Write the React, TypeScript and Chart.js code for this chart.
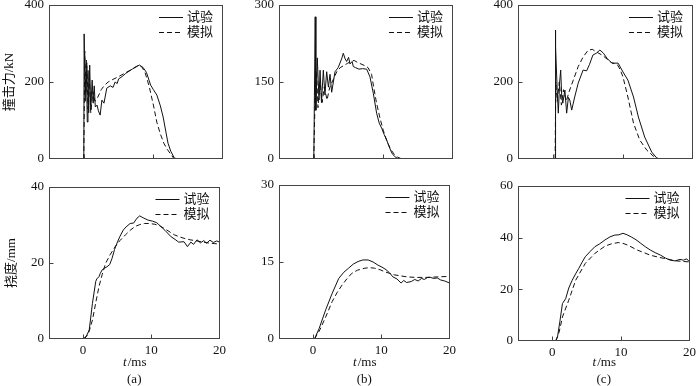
import React, { useEffect, useRef } from 'react';
import { Chart, registerables } from 'chart.js';

Chart.register(...registerables);

const SERIF = '"Liberation Serif", "Times New Roman", "Noto Sans CJK SC", serif';
const INK = '#111';
const FRAME = '#444';

const LEGEND_LABELS = ['试验', '模拟'];
const X_TICKS = [0, 10, 20];
const X_TITLE_ITALIC = 't';
const X_TITLE_REST = '/ms';
const SUB_LABELS = ['(a)', '(b)', '(c)'];
const Y_TITLES = ['撞击力/kN', '挠度/mm'];

// ---- Force (a)
const aForceTestT = [0, 0.05, 0.2, 0.35, 0.5, 0.6, 0.7, 0.85, 1.0, 1.2, 1.35, 1.5, 1.65, 1.9, 2.1, 2.35, 2.6, 2.9, 3.3, 3.8, 4.2, 4.5, 4.8, 5.0, 5.5, 6.0, 6.5, 7.0, 7.5, 8.0, 8.5, 9.0, 9.6, 10.0, 10.5, 11.0, 11.4, 11.8, 12.1, 12.5, 13.0, 13.1];
const aForceTestV = [0, 325, 150, 257, 96, 230, 120, 244, 127, 205, 145, 190, 135, 140, 125, 114, 153, 145, 184, 190, 186, 200, 196, 208, 214, 222, 228, 234, 240, 244, 238, 225, 192, 180, 166, 138, 109, 70, 41, 20, 3, 0];
const aForceSimT = [0, 0.15, 0.3, 0.45, 0.6, 0.8, 1.0, 1.3, 1.6, 2.0, 2.5, 3.0, 3.5, 4.0, 5.0, 6.0, 7.0, 7.8, 8.3, 8.8, 9.4, 10.0, 10.5, 11.0, 11.5, 12.0, 12.5, 13.0];
const aForceSimV = [0, 280, 170, 250, 130, 210, 120, 175, 150, 160, 180, 192, 200, 205, 214, 224, 234, 242, 240, 225, 188, 140, 95, 65, 41, 25, 12, 0];

// ---- Force (b)
const bForceTestT = [0, 0.2, 0.3, 0.5, 0.75, 0.9, 1.1, 1.37, 1.6, 1.85, 2.1, 2.33, 2.57, 3.05, 3.5, 3.76, 4.0, 4.24, 4.5, 4.72, 5.0, 5.2, 5.5, 5.68, 6.0, 6.5, 7.0, 7.6, 8.07, 8.55, 9.03, 9.4, 9.75, 10.1, 10.47, 10.8, 11.19, 11.6, 12.14];
const bForceTestV = [0, 277, 95, 197, 115, 173, 110, 173, 125, 170, 140, 165, 130, 170, 178, 187, 195, 206, 195, 190, 198, 185, 190, 180, 178, 175, 176, 175, 160, 128, 89, 70, 60, 48, 37, 25, 12, 5, 0];
const bForceSimT = [0, 0.2, 0.4, 0.6, 0.9, 1.2, 1.5, 1.9, 2.3, 2.8, 3.3, 3.8, 4.3, 4.8, 5.3, 5.8, 6.3, 6.8, 7.3, 7.8, 8.3, 8.6, 9.0, 9.5, 10.0, 10.5, 11.0, 11.5, 12.0, 12.5, 13.1];
const bForceSimV = [0, 130, 170, 100, 150, 110, 140, 115, 140, 155, 170, 178, 182, 186, 190, 192, 188, 185, 182, 178, 165, 140, 110, 80, 55, 35, 20, 10, 4, 1, 0];

// ---- Force (c)
const cForceTestT = [0.3, 0.33, 0.4, 0.6, 0.76, 0.95, 1.1, 1.25, 1.4, 1.7, 1.95, 2.2, 2.4, 2.67, 3.1, 3.6, 4.3, 4.8, 5.2, 5.7, 6.2, 6.7, 7.2, 7.7, 8.4, 9.3, 10.0, 10.7, 11.5, 12.2, 13.1, 14.1, 14.8, 15.3];
const cForceTestV = [0, 335, 291, 180, 119, 200, 231, 160, 145, 179, 119, 160, 153, 127, 161, 197, 231, 229, 245, 270, 275, 283, 275, 262, 249, 249, 226, 205, 161, 109, 57, 18, 3, 0];
const cForceSimT = [0.3, 0.4, 0.6, 0.9, 1.2, 1.5, 1.9, 2.3, 2.9, 3.6, 4.3, 5.0, 5.6, 6.2, 7.0, 7.7, 8.4, 9.2, 9.6, 10.0, 10.7, 11.5, 12.4, 13.4, 14.3, 15.0];
const cForceSimV = [0, 200, 150, 200, 140, 180, 150, 175, 205, 240, 265, 282, 285, 278, 270, 260, 250, 245, 232, 213, 161, 93, 49, 23, 8, 0];

// ---- Deflection (a)
const aDeflTestT = [0, 0.5, 0.9, 1.37, 1.85, 2.0, 2.33, 2.5, 2.8, 3.1, 3.5, 3.9, 4.24, 4.6, 4.96, 5.4, 5.9, 6.3, 6.9, 7.4, 7.9, 8.3, 8.8, 9.5, 10.2, 10.8, 11.4, 12.0, 12.9, 13.5, 14.0, 14.8, 15.3, 15.8, 16.2, 16.7, 17.2, 17.7, 18.1, 18.6, 19.1, 19.6, 20];
const aDeflTestV = [0, 0.8, 2.4, 9.4, 15.1, 15.8, 16.4, 17.2, 18.2, 18.6, 19.0, 19.6, 21.2, 23.5, 25.2, 27.0, 28.7, 29.5, 30.4, 30.5, 31.8, 32.4, 31.9, 31.3, 31.0, 30.6, 29.6, 28.6, 26.9, 26.2, 25.5, 25.6, 24.3, 25.5, 24.9, 26.1, 25.3, 25.9, 25.2, 26.0, 25.4, 25.8, 25.5];
const aDeflSimT = [0.2, 0.8, 1.37, 1.85, 2.33, 2.8, 3.3, 4.0, 4.7, 5.4, 6.2, 6.9, 7.6, 8.3, 9.0, 9.7, 10.5, 11.2, 11.9, 12.6, 13.4, 14.1, 14.8, 15.7, 16.7, 17.6, 18.6, 19.3, 20];
const aDeflSimV = [0, 1.5, 5.0, 9.5, 13.8, 17.0, 19.9, 22.3, 24.3, 25.9, 27.4, 28.6, 29.6, 30.1, 30.4, 30.4, 30.2, 29.8, 29.1, 28.3, 27.4, 26.9, 26.5, 26.1, 25.8, 25.5, 25.2, 25.1, 25.0];

// ---- Deflection (b)
const bDeflTestT = [0.2, 0.9, 1.85, 2.8, 3.76, 4.5, 5.2, 5.9, 6.6, 7.3, 8.07, 8.8, 9.5, 10.1, 10.7, 11.2, 11.7, 12.3, 12.9, 13.3, 13.7, 14.4, 14.9, 15.4, 15.9, 16.3, 16.8, 17.2, 17.7, 18.2, 18.7, 19.3, 20];
const bDeflTestV = [0, 2.1, 5.7, 8.9, 11.8, 13.0, 13.8, 14.6, 15.1, 15.4, 15.4, 15.0, 14.4, 14.0, 13.5, 12.9, 12.1, 11.7, 10.9, 11.4, 11.0, 11.2, 11.6, 11.3, 11.8, 11.6, 12.0, 12.0, 11.8, 11.9, 11.5, 11.3, 10.9];
const bDeflSimT = [0.2, 1.0, 1.85, 2.8, 3.5, 4.24, 5.0, 5.68, 6.5, 7.6, 8.3, 9.0, 9.8, 10.5, 11.2, 11.9, 12.8, 13.8, 15.0, 16.7, 18.3, 20];
const bDeflSimV = [0, 1.8, 4.3, 7.3, 9.0, 10.5, 11.8, 12.8, 13.4, 13.8, 13.9, 13.8, 13.5, 13.1, 12.8, 12.5, 12.3, 12.1, 12.0, 12.0, 12.1, 12.2];

// ---- Deflection (c)
const cDeflTestT = [0.3, 0.5, 0.76, 1.1, 1.48, 1.95, 2.4, 2.9, 3.4, 3.86, 4.3, 4.8, 5.5, 6.2, 6.9, 7.67, 8.4, 9.1, 9.7, 10.3, 10.9, 11.5, 12.2, 12.9, 13.6, 14.3, 15.0, 15.8, 16.5, 17.2, 17.9, 18.6, 19.1, 19.6, 20];
const cDeflTestV = [0, 0, 1.6, 7.5, 14.5, 16.4, 20.5, 23.5, 26.0, 28.1, 30.3, 32.6, 34.6, 36.5, 37.6, 39.1, 40.3, 41.0, 41.1, 41.7, 41.1, 40.3, 39.2, 37.8, 36.4, 35.2, 34.2, 33.2, 32.1, 31.3, 31.0, 31.6, 31.3, 31.8, 30.6];
const cDeflSimT = [0.5, 1.0, 1.48, 2.4, 3.4, 4.8, 6.2, 7.67, 8.6, 9.6, 10.3, 11.0, 12.4, 14.3, 16.2, 18.1, 20];
const cDeflSimV = [0, 3.5, 9.3, 15.8, 23.5, 30.0, 33.9, 36.7, 37.6, 38.1, 37.8, 37.1, 35.2, 33.2, 32.0, 31.0, 30.6];

// Y axis ranges
const Y_MAX = { aF: 400, bF: 300, cF: 400, aD: 40, bD: 30, cD: 60 };
const Y_STEP = { aF: 200, bF: 150, cF: 200, aD: 20, bD: 15, cD: 20 };

type PanelCfg = {
  left: number; top: number; width: number; height: number;
  padTop: number; padRight: number; yWidth: number; xHeight: number;
  yMax: number; yStep: number; yTitle?: string; yTitlePad?: number;
  showX: boolean; sub?: string; titleY?: number; subY?: number;
  testT: number[]; testV: number[]; simT: number[]; simV: number[];
};

const pair = (t: number[], v: number[]) => t.map((x, i) => ({ x, y: v[i] }));

const framePlugin = {
  id: 'frame',
  afterDraw(chart: any, _args: any, opts: any) {
    const { ctx, chartArea } = chart;
    const { left, right, top, bottom } = chartArea;
    const xs = chart.scales.x;
    const ys = chart.scales.y;
    ctx.save();
    // frame
    ctx.strokeStyle = FRAME;
    ctx.lineWidth = 1;
    ctx.setLineDash([]);
    const L = Math.round(left) + 0.5, R = Math.round(right) - 0.5;
    const T = Math.round(top) + 0.5, B = Math.round(bottom) - 0.5;
    ctx.strokeRect(L, T, R - L, B - T);
    // inner ticks
    ctx.beginPath();
    xs.ticks.forEach((tk: any) => {
      const px = Math.round(xs.getPixelForValue(tk.value)) + 0.5;
      if (px > L + 1 && px < R - 1) { ctx.moveTo(px, B); ctx.lineTo(px, B - 4); }
    });
    ys.ticks.forEach((tk: any) => {
      const py = Math.round(ys.getPixelForValue(tk.value)) + 0.5;
      if (py > T + 1 && py < B - 1) { ctx.moveTo(L, py); ctx.lineTo(L + 4, py); }
    });
    ctx.stroke();
    // legend
    ctx.font = `13px ${SERIF}`;
    ctx.textBaseline = 'middle';
    ctx.textAlign = 'left';
    chart.data.datasets.forEach((ds: any, i: number) => {
      const y = Math.round(top + 12 + i * 14.5) + 0.5;
      const w = ctx.measureText(ds.label).width;
      const tx = right - 10 - w;
      ctx.fillStyle = INK;
      ctx.fillText(ds.label, tx, y);
      ctx.strokeStyle = INK;
      ctx.setLineDash(ds.borderDash || []);
      ctx.beginPath();
      ctx.moveTo(tx - 28, y);
      ctx.lineTo(tx - 4, y);
      ctx.stroke();
    });
    ctx.setLineDash([]);
    // x title and sub label
    if (opts && opts.showTitle) {
      const cx = (left + right) / 2;
      ctx.fillStyle = INK;
      ctx.font = `italic 13px ${SERIF}`;
      const w1 = ctx.measureText(X_TITLE_ITALIC).width;
      ctx.font = `13px ${SERIF}`;
      const w2 = ctx.measureText(X_TITLE_REST).width;
      const sx = cx - (w1 + w2) / 2;
      ctx.font = `italic 13px ${SERIF}`;
      ctx.fillText(X_TITLE_ITALIC, sx, opts.titleY);
      ctx.font = `13px ${SERIF}`;
      ctx.fillText(X_TITLE_REST, sx + w1 + 1, opts.titleY);
      ctx.textAlign = 'center';
      ctx.fillText(opts.sub, cx, opts.subY);
    }
    ctx.restore();
  },
};

function Panel(p: PanelCfg) {
  const ref = useRef<HTMLCanvasElement>(null);
  useEffect(() => {
    const chart = new Chart(ref.current as HTMLCanvasElement, {
      type: 'line',
      data: {
        datasets: [
          { label: LEGEND_LABELS[0], data: pair(p.testT, p.testV), borderColor: INK, borderWidth: 1, pointRadius: 0, tension: 0, fill: false },
          { label: LEGEND_LABELS[1], data: pair(p.simT, p.simV), borderColor: INK, borderWidth: 1, borderDash: [5, 3], pointRadius: 0, tension: 0, fill: false },
        ],
      },
      options: {
        responsive: false,
        animation: false,
        devicePixelRatio: 1,
        layout: { padding: { top: p.padTop, right: p.padRight, left: 0, bottom: 0 } },
        plugins: {
          legend: { display: false },
          tooltip: { enabled: false },
          frame: { showTitle: p.showX, sub: p.sub, titleY: p.titleY, subY: p.subY },
        } as any,
        scales: {
          x: {
            type: 'linear', min: -5, max: 20,
            grid: { display: false, drawTicks: false },
            border: { display: false },
            afterBuildTicks: (s: any) => { s.ticks = X_TICKS.map((v) => ({ value: v })); },
            afterFit: (s: any) => { s.height = p.xHeight; },
            ticks: { display: p.showX, padding: 4, color: INK, font: { family: SERIF, size: 13 }, maxRotation: 0 },
          },
          y: {
            type: 'linear', min: 0, max: p.yMax,
            grid: { display: false, drawTicks: false },
            border: { display: false },
            afterFit: (s: any) => { s.width = p.yWidth; },
            ticks: { stepSize: p.yStep, padding: 5, color: INK, font: { family: SERIF, size: 13 } },
            title: {
              display: !!p.yTitle, text: p.yTitle || '', color: INK,
              font: { family: SERIF, size: 13 },
              padding: { top: p.yTitlePad ?? 2, bottom: 0 },
            },
          },
        },
      } as any,
      plugins: [framePlugin],
    });
    return () => chart.destroy();
  }, []);
  return (
    <canvas
      ref={ref}
      width={p.width}
      height={p.height}
      style={{ position: 'absolute', left: p.left, top: p.top, width: p.width, height: p.height }}
    />
  );
}

const TOP = { top: -10, height: 186, padTop: 15, xHeight: 17, showX: false };
const BOT = { top: 170, height: 216, showX: true, titleY: 193, subY: 209.5 };

const panels: PanelCfg[] = [
  { ...TOP, left: 0, width: 230, padRight: 7, yWidth: 49, yMax: Y_MAX.aF, yStep: Y_STEP.aF, yTitle: Y_TITLES[0], yTitlePad: 2,
    testT: aForceTestT, testV: aForceTestV, simT: aForceSimT, simV: aForceSimV },
  { ...TOP, left: 230, width: 230, padRight: 7, yWidth: 49, yMax: Y_MAX.bF, yStep: Y_STEP.bF,
    testT: bForceTestT, testV: bForceTestV, simT: bForceSimT, simV: bForceSimV },
  { ...TOP, left: 460, width: 240, padRight: 7, yWidth: 58, yMax: Y_MAX.cF, yStep: Y_STEP.cF,
    testT: cForceTestT, testV: cForceTestV, simT: cForceSimT, simV: cForceSimV },
  { ...BOT, left: 0, width: 230, padTop: 17, xHeight: 47, padRight: 7, yWidth: 49, yMax: Y_MAX.aD, yStep: Y_STEP.aD, yTitle: Y_TITLES[1], yTitlePad: 4,
    sub: SUB_LABELS[0], testT: aDeflTestT, testV: aDeflTestV, simT: aDeflSimT, simV: aDeflSimV },
  { ...BOT, left: 230, width: 230, padTop: 15, xHeight: 47, padRight: 7, yWidth: 49, yMax: Y_MAX.bD, yStep: Y_STEP.bD,
    sub: SUB_LABELS[1], testT: bDeflTestT, testV: bDeflTestV, simT: bDeflSimT, simV: bDeflSimV },
  { ...BOT, left: 460, width: 240, padTop: 16, xHeight: 45, padRight: 7, yWidth: 58, yMax: Y_MAX.cD, yStep: Y_STEP.cD,
    sub: SUB_LABELS[2], testT: cDeflTestT, testV: cDeflTestV, simT: cDeflSimT, simV: cDeflSimV },
];

export default function App() {
  return (
    <div style={{ position: 'fixed', left: 0, top: 0, width: 700, height: 386, background: '#fff', overflow: 'hidden' }}>
      {panels.map((p, i) => <Panel key={i} {...p} />)}
    </div>
  );
}
